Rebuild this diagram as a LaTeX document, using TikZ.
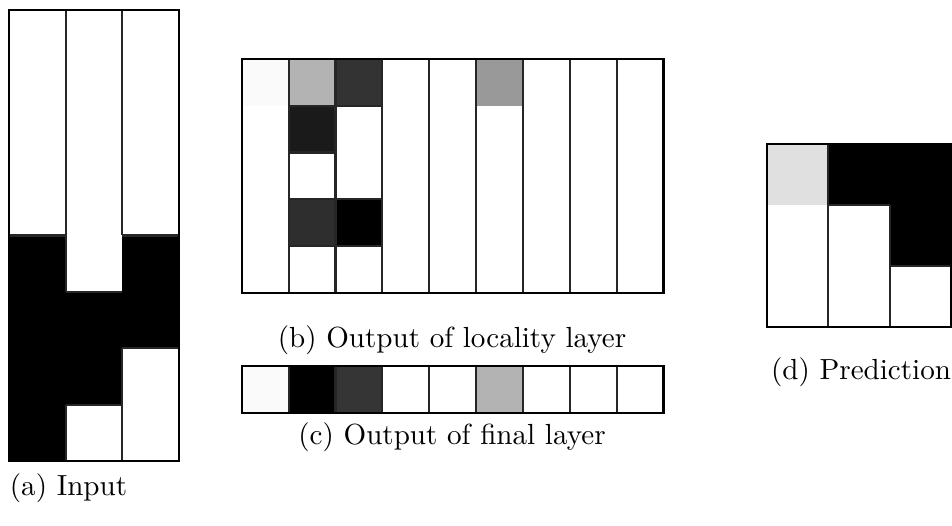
\documentclass[tikz,border=0pt]{standalone}
\definecolor{nearwhite}{HTML}{FAFAFA}
\definecolor{lgray}{HTML}{B3B3B3}
\definecolor{mgray}{HTML}{999999}
\definecolor{dgray}{HTML}{333333}
\definecolor{vdgray}{HTML}{1A1A1A}
\definecolor{ddgray}{HTML}{2E2E2E}
\definecolor{cgray}{HTML}{353535}
\definecolor{pgray}{HTML}{E0E0E0}
\tikzset{
  gridline/.style={draw=black!85, line width=0.7pt},
  frame/.style={draw=black, line width=0.8pt},
  caption/.style={font=\normalsize, inner sep=0pt, anchor=center}
}
\begin{document}
\begin{tikzpicture}[x=0.3437pt, y=-0.3437pt]
\useasboundingbox (0,0) rectangle (952,525);
\fill[white] (0,0) rectangle (952,525);

% (a) Input: 3 columns x 8 rows
\begin{scope}[shift={(9,10)}, x=19.477pt, y=-19.376pt]
  \fill[black] (0,4) rectangle (1,8);
  \fill[black] (1,5) rectangle (2,7);
  \fill[black] (2,4) rectangle (3,6);
  \draw[gridline] (1,0) -- (1,5) (1,7) -- (1,8) (2,0) -- (2,4) (2,6) -- (2,8);
  \draw[gridline] (0,4) -- (1,4) (1,5) -- (2,5) (1,7) -- (2,7) (2,4) -- (3,4) (2,6) -- (3,6);
  \draw[frame] (0,0) rectangle (3,8);
\end{scope}
\node[caption] (capa) at (68.5,488) {(a) Input};

% (b) Output of locality layer: 9 columns x 5 rows
\begin{scope}[shift={(241.8,59)}, x=16.102pt, y=-16.065pt]
  \fill[nearwhite] (0,0) rectangle (1,1);
  \fill[lgray] (1,0) rectangle (2,1);
  \fill[dgray] (2,0) rectangle (3,1);
  \fill[mgray] (5,0) rectangle (6,1);
  \fill[vdgray] (1,1) rectangle (2,2);
  \fill[ddgray] (1,3) rectangle (2,4);
  \fill[black] (2,3) rectangle (3,4);
  \foreach \i in {1,...,8} {\draw[gridline] (\i,0) -- (\i,5);}
  \draw[gridline] (1,1) -- (2,1) (1,2) -- (2,2) (1,3) -- (2,3) (1,4) -- (2,4);
  \draw[gridline] (2,1) -- (3,1) (2,3) -- (3,3) (2,4) -- (3,4);
  \draw[frame] (0,0) rectangle (9,5);
\end{scope}
\node[caption] (capb) at (452,340) {(b) Output of locality layer};

% (c) Output of final layer: 9 columns x 1 row
\begin{scope}[shift={(241.8,366)}, x=16.102pt, y=-16.05pt]
  \fill[nearwhite] (0,0) rectangle (1,1);
  \fill[black] (1,0) rectangle (2,1);
  \fill[cgray] (2,0) rectangle (3,1);
  \fill[lgray] (5,0) rectangle (6,1);
  \foreach \i in {1,...,8} {\draw[gridline] (\i,0) -- (\i,1);}
  \draw[frame] (0,0) rectangle (9,1);
\end{scope}
\node[caption] (capc) at (452,437) {(c) Output of final layer};

% (d) Prediction: 3 x 3
\begin{scope}[shift={(766.7,144)}, x=21.103pt, y=-21.0pt]
  \fill[pgray] (0,0) rectangle (1,1);
  \fill[black] (1,0) rectangle (3,1);
  \fill[black] (2,1) rectangle (3,2);
  \draw[gridline] (1,0) -- (1,3) (2,1) -- (2,3);
  \draw[gridline] (1,1) -- (2,1) (2,2) -- (3,2);
  \draw[frame] (0,0) rectangle (3,3);
\end{scope}
\node[caption] (capd) at (861,372) {(d) Prediction};
\end{tikzpicture}
\end{document}
